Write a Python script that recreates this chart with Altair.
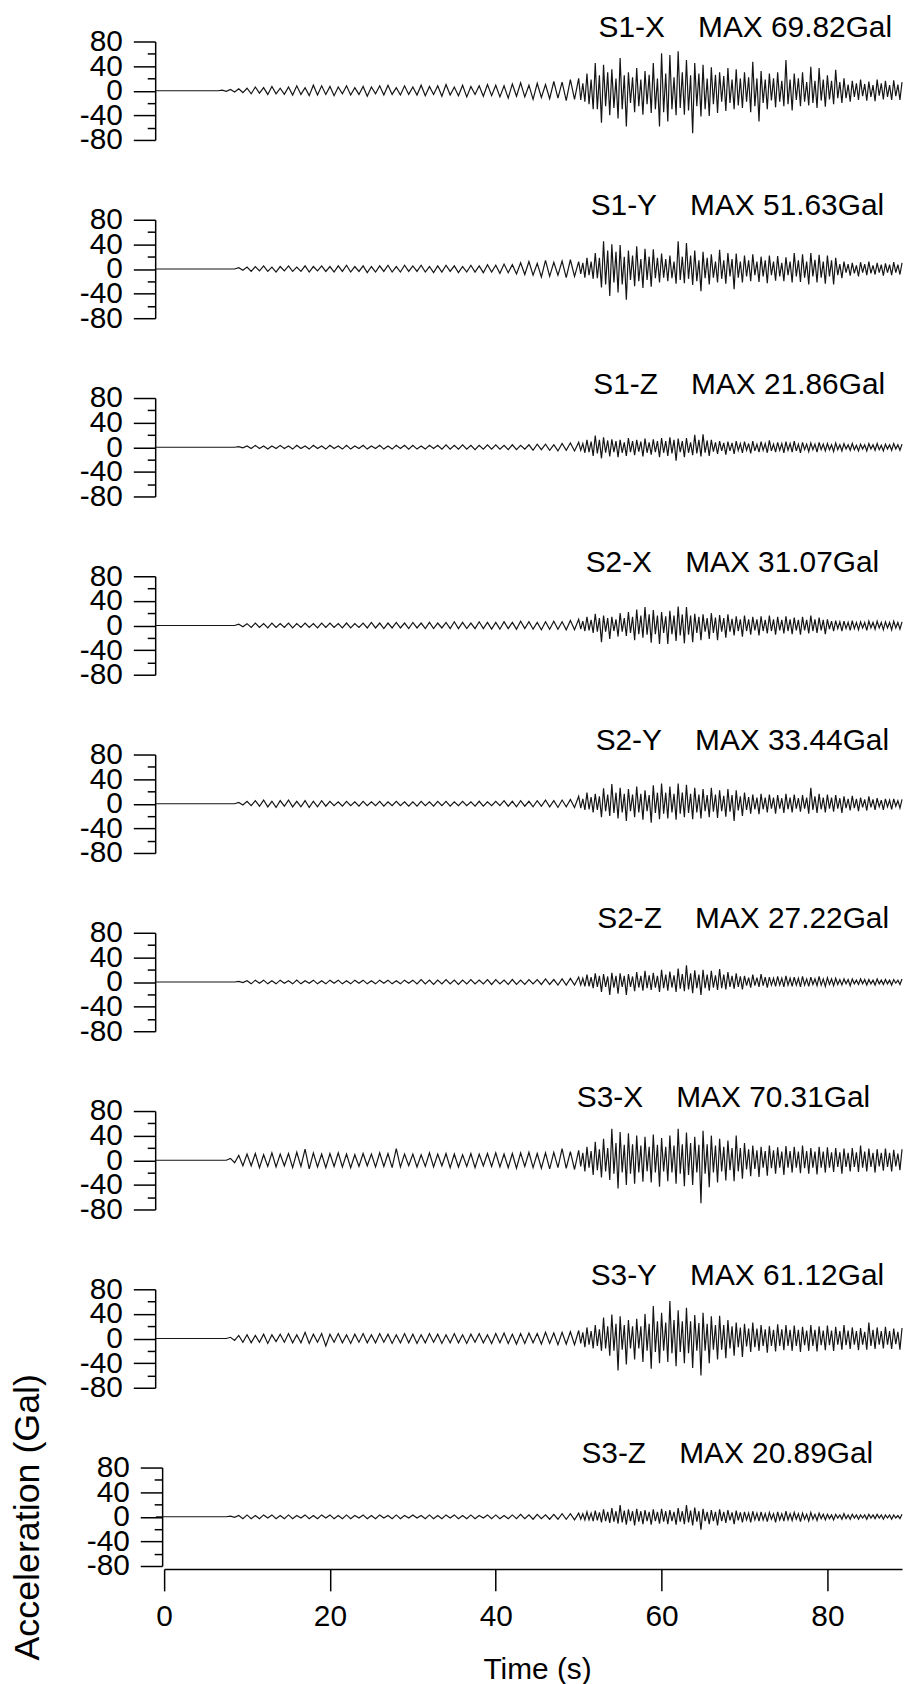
import altair as alt
import pandas as pd

# sample grids of the traces (s): peaks every 0.5 s from -1 s to 49.5 s,
# then every 0.25 s from 50 s to 89 s
EARLY_T0, EARLY_DT = -1.0, 0.5
LATE_T0, LATE_DT = 50.0, 0.25

NAMES = ["S1-X", "S1-Y", "S1-Z", "S2-X", "S2-Y", "S2-Z", "S3-X", "S3-Y", "S3-Z"]
MAX_GAL = ["69.82", "51.63", "21.86", "31.07", "33.44", "27.22", "70.31", "61.12", "20.89"]

# ---- alternating peak values (Gal) ----
S1X_EARLY = [0, 0,
    0, 0, 0, 0, 0, 0, 0, 0, 0, 0, 0, 0, 0, 0, 1, -1, 2, -2, 3, -3,
    4, -5, 6, -4, 5, -6, 7, -5, 4, -6, 6, -7, 8, -6, 5, -8, 9, -7, 8, -6,
    7, -8, 6, -5, 8, -7, 5, -6, 7, -9, 6, -5, 8, -7, 9, -6, 5, -7, 8, -6,
    6, -7, 9, -8, 7, -6, 8, -9, 10, -7, 6, -8, 9, -10, 7, -6, 8, -9, 10, -8,
    9, -10, 8, -12, 11, -9, 13, -10, 9, -14, 12, -11, 10, -13, 15, -12, 14, -16, 18, -14]
S1X_LATE = [
    20, -15, 12, -18, 28, -22, 18, -30, 45, -30, 25, -52, 42, -25, 30, -40, 35, -28, 20, -45,
    53, -30, 25, -58, 30, -20, 22, -35, 37, -25, 18, -39, 32, -22, 26, -36, 45, -30, 20, -58,
    61, -35, 28, -50, 58, -30, 22, -40, 64, -28, 30, -39, 50, -32, 25, -69, 45, -25, 28, -42,
    42, -30, 20, -41, 38, -22, 26, -36, 30, -18, 24, -33, 37, -20, 18, -30, 35, -24, 20, -28,
    30, -18, 22, -35, 47, -25, 20, -50, 32, -20, 18, -30, 28, -16, 20, -27, 30, -18, 16, -25,
    50, -22, 18, -32, 28, -15, 20, -25, 30, -18, 14, -24, 39, -20, 16, -28, 37, -16, 18, -26,
    25, -14, 16, -22, 34, -12, 14, -20, 20, -12, 10, -18, 16, -10, 12, -15, 18, -9, 11, -16,
    15, -10, 9, -17, 18, -8, 12, -14, 16, -10, 9, -15, 17, -9, 10, -15, 14]

S1Y_EARLY = [0, 0,
    0, 0, 0, 0, 0, 0, 0, 0, 0, 0, 0, 0, 0, 0, 0, 0, 0, 0, 2, -2,
    3, -4, 4, -3, 5, -4, 3, -5, 4, -3, 5, -4, 3, -4, 5, -5, 4, -3, 5, -4,
    4, -5, 5, -4, 6, -5, 4, -4, 5, -6, 4, -5, 5, -4, 6, -5, 4, -5, 6, -4,
    5, -4, 6, -5, 4, -6, 5, -5, 6, -4, 5, -6, 4, -5, 6, -5, 5, -6, 7, -5,
    6, -7, 8, -6, 7, -8, 10, -9, 12, -10, 9, -13, 14, -12, 11, -10, 13, -14, 15, -12]
S1Y_LATE = [
    12, -8, 10, -14, 18, -10, 12, -16, 26, -15, 18, -30, 45, -25, 30, -44, 40, -22, 28, -38,
    39, -25, 20, -50, 30, -18, 22, -28, 37, -20, 16, -31, 33, -18, 20, -29, 32, -15, 18, -22,
    25, -14, 16, -20, 22, -15, 12, -24, 45, -18, 20, -23, 42, -16, 22, -26, 30, -20, 14, -36,
    28, -15, 18, -25, 24, -14, 12, -22, 31, -16, 14, -24, 26, -12, 16, -33, 25, -14, 12, -22,
    22, -12, 14, -20, 24, -10, 12, -21, 20, -12, 14, -23, 22, -10, 12, -19, 21, -12, 10, -20,
    19, -10, 12, -22, 26, -12, 14, -21, 24, -14, 12, -25, 26, -12, 15, -22, 23, -14, 12, -24,
    22, -12, 14, -25, 18, -10, 8, -15, 12, -6, 8, -11, 10, -7, 6, -12, 11, -6, 8, -10,
    12, -7, 6, -9, 10, -6, 7, -11, 9, -6, 7, -10, 11, -6, 7, -9, 10]

S1Z_EARLY = [0, 0,
    0, 0, 0, 0, 0, 0, 0, 0, 0, 0, 0, 0, 0, 0, 0, 0, 0, 0, 1, -1,
    2, -2, 3, -2, 2, -3, 2, -2, 3, -2, 2, -3, 3, -2, 2, -3, 3, -2, 2, -3,
    3, -2, 2, -3, 3, -3, 2, -2, 3, -3, 2, -2, 3, -3, 2, -3, 3, -2, 3, -3,
    3, -3, 2, -3, 3, -2, 3, -3, 4, -3, 3, -3, 4, -3, 3, -4, 3, -3, 4, -3,
    4, -3, 3, -4, 4, -4, 3, -3, 4, -5, 5, -4, 5, -5, 4, -6, 6, -5, 7, -6]
S1Z_LATE = [
    8, -5, 6, -9, 12, -8, 9, -14, 19, -10, 12, -18, 16, -9, 11, -15, 13, -8, 10, -16,
    12, -9, 8, -14, 15, -8, 10, -13, 12, -7, 9, -15, 14, -9, 8, -12, 13, -8, 10, -16,
    15, -9, 10, -14, 16, -10, 12, -22, 14, -8, 10, -16, 15, -9, 8, -13, 20, -10, 12, -15,
    21, -9, 11, -14, 12, -7, 8, -11, 10, -6, 7, -12, 9, -6, 7, -11, 10, -5, 6, -9,
    9, -5, 6, -10, 10, -6, 5, -8, 9, -5, 6, -9, 11, -6, 5, -8, 8, -5, 6, -9,
    9, -5, 6, -8, 10, -6, 5, -9, 8, -4, 5, -7, 7, -4, 5, -8, 8, -4, 5, -6,
    6, -4, 4, -7, 7, -4, 4, -6, 6, -3, 4, -5, 6, -4, 3, -6, 5, -3, 4, -6,
    6, -3, 4, -5, 6, -4, 3, -6, 5, -3, 4, -5, 6, -3, 4, -5, 5]

S2X_EARLY = [0, 0,
    0, 0, 0, 0, 0, 0, 0, 0, 0, 0, 0, 0, 0, 0, 0, 0, 0, 0, 2, -2,
    3, -3, 4, -3, 3, -4, 4, -3, 3, -3, 4, -4, 3, -3, 4, -3, 3, -4, 4, -3,
    4, -3, 3, -4, 4, -4, 3, -3, 4, -4, 5, -4, 4, -5, 4, -4, 5, -4, 4, -5,
    5, -4, 4, -5, 5, -5, 4, -4, 5, -5, 6, -5, 5, -5, 4, -5, 6, -5, 5, -6,
    5, -6, 6, -5, 5, -6, 7, -5, 6, -6, 5, -7, 6, -6, 7, -6, 6, -7, 8, -7]
S2X_LATE = [
    10, -6, 7, -9, 14, -8, 9, -12, 19, -10, 12, -27, 16, -10, 12, -22, 14, -9, 10, -18,
    20, -10, 12, -17, 22, -12, 14, -24, 26, -14, 16, -20, 30, -15, 18, -28, 25, -14, 16, -30,
    22, -12, 15, -30, 24, -14, 16, -25, 31, -16, 18, -29, 30, -15, 16, -27, 19, -12, 14, -24,
    18, -10, 12, -22, 20, -12, 13, -24, 17, -10, 12, -20, 18, -10, 11, -16, 15, -9, 10, -18,
    16, -9, 10, -15, 14, -8, 10, -16, 15, -9, 9, -13, 16, -9, 10, -15, 14, -8, 9, -13,
    15, -9, 10, -14, 13, -8, 9, -15, 14, -8, 9, -13, 16, -9, 10, -12, 13, -8, 9, -14,
    10, -6, 7, -9, 8, -5, 6, -9, 7, -5, 5, -8, 8, -5, 5, -7, 6, -4, 5, -8,
    7, -4, 5, -6, 7, -4, 5, -7, 6, -4, 5, -7, 7, -4, 5, -6, 6]

S2Y_EARLY = [0, 0,
    0, 0, 0, 0, 0, 0, 0, 0, 0, 0, 0, 0, 0, 0, 0, 0, 0, 0, 2, -2,
    4, -3, 5, -4, 6, -5, 4, -6, 5, -4, 6, -5, 4, -5, 5, -6, 4, -5, 5, -4,
    4, -3, 3, -4, 4, -3, 3, -4, 4, -3, 3, -3, 4, -4, 3, -3, 4, -3, 3, -4,
    3, -4, 4, -3, 3, -4, 4, -3, 4, -4, 3, -3, 4, -3, 3, -4, 4, -4, 3, -3,
    4, -3, 5, -4, 4, -5, 5, -4, 4, -5, 5, -4, 6, -5, 5, -6, 6, -5, 7, -6]
S2Y_LATE = [
    12, -7, 8, -10, 18, -9, 11, -14, 16, -10, 12, -22, 25, -12, 15, -20, 32, -15, 18, -24,
    26, -14, 16, -28, 24, -12, 15, -22, 28, -14, 16, -26, 22, -12, 14, -31, 30, -15, 18, -25,
    33, -16, 18, -24, 28, -14, 16, -26, 33, -16, 18, -22, 31, -15, 16, -25, 26, -14, 15, -24,
    24, -12, 14, -22, 26, -13, 15, -23, 22, -12, 13, -21, 24, -13, 14, -28, 22, -11, 12, -20,
    18, -10, 11, -16, 15, -9, 10, -17, 16, -9, 10, -14, 15, -8, 10, -16, 14, -8, 9, -15,
    16, -9, 10, -14, 15, -8, 9, -13, 14, -8, 10, -16, 26, -10, 12, -15, 16, -9, 10, -14,
    15, -8, 10, -13, 14, -8, 9, -15, 12, -7, 8, -11, 13, -7, 8, -12, 10, -6, 7, -11,
    12, -6, 7, -10, 9, -5, 6, -10, 8, -5, 6, -9, 8, -4, 5, -7, 7]

S2Z_EARLY = [0, 0,
    0, 0, 0, 0, 0, 0, 0, 0, 0, 0, 0, 0, 0, 0, 0, 0, 0, 0, 1, -1,
    2, -3, 3, -2, 3, -3, 2, -3, 3, -2, 2, -3, 3, -3, 2, -2, 3, -3, 2, -3,
    3, -2, 3, -3, 2, -3, 3, -2, 3, -3, 2, -3, 3, -2, 3, -3, 2, -3, 3, -2,
    3, -3, 4, -3, 3, -4, 3, -3, 4, -3, 3, -4, 3, -3, 4, -3, 3, -3, 4, -4,
    4, -3, 3, -4, 4, -4, 3, -4, 4, -3, 4, -4, 5, -4, 4, -5, 5, -5, 6, -5]
S2Z_LATE = [
    8, -5, 6, -7, 12, -7, 8, -10, 14, -8, 10, -16, 13, -8, 9, -21, 15, -9, 10, -19,
    14, -8, 10, -21, 13, -8, 9, -15, 16, -9, 10, -14, 18, -10, 11, -13, 15, -9, 10, -16,
    20, -10, 12, -14, 17, -9, 11, -16, 22, -11, 13, -15, 27, -12, 14, -18, 19, -10, 12, -21,
    20, -10, 12, -14, 18, -9, 11, -13, 21, -10, 12, -12, 16, -8, 10, -11, 14, -8, 9, -12,
    10, -6, 7, -9, 12, -6, 7, -8, 13, -6, 8, -9, 8, -5, 6, -7, 9, -5, 6, -8,
    10, -5, 6, -7, 8, -5, 6, -8, 9, -5, 5, -7, 8, -4, 5, -6, 9, -5, 5, -7,
    7, -4, 5, -6, 6, -4, 4, -5, 5, -3, 4, -6, 5, -3, 3, -4, 5, -3, 4, -5,
    4, -3, 3, -5, 5, -3, 3, -4, 4, -3, 3, -5, 4, -2, 3, -4, 5]

S3X_EARLY = [0, 0,
    0, 0, 0, 0, 0, 0, 0, 0, 0, 0, 0, 0, 0, 0, 0, 0, 3, -4, 8, -9,
    10, -9, 11, -12, 9, -10, 12, -11, 10, -9, 11, -12, 13, -10, 18, -14, 12, -11, 10, -12,
    11, -10, 12, -11, 10, -12, 9, -10, 11, -9, 10, -11, 12, -10, 11, -12, 19, -11, 10, -9,
    10, -11, 9, -10, 12, -11, 10, -9, 11, -12, 10, -11, 9, -10, 11, -12, 10, -9, 11, -10,
    12, -11, 10, -12, 11, -13, 12, -10, 13, -12, 11, -13, 12, -14, 13, -12, 19, -13, 14, -15]
S3X_LATE = [
    16, -10, 12, -18, 22, -12, 15, -24, 30, -16, 18, -28, 35, -18, 20, -32, 51, -22, 28, -46,
    46, -20, 25, -40, 44, -22, 26, -38, 40, -20, 24, -35, 38, -18, 22, -36, 42, -20, 25, -43,
    36, -18, 22, -34, 40, -20, 24, -38, 51, -22, 26, -42, 45, -24, 28, -40, 38, -20, 25, -70,
    48, -22, 26, -44, 40, -20, 24, -36, 35, -18, 22, -33, 32, -16, 20, -34, 40, -18, 20, -30,
    28, -15, 18, -26, 24, -14, 16, -27, 22, -12, 15, -25, 24, -13, 16, -22, 21, -12, 14, -24,
    23, -12, 15, -20, 22, -12, 14, -21, 24, -13, 15, -22, 20, -12, 14, -23, 22, -12, 14, -20,
    21, -12, 13, -19, 20, -11, 13, -22, 19, -11, 12, -18, 20, -11, 13, -19, 24, -12, 14, -18,
    19, -11, 12, -20, 18, -10, 12, -17, 19, -11, 12, -18, 17, -10, 11, -16, 18]

S3Y_EARLY = [0, 0,
    0, 0, 0, 0, 0, 0, 0, 0, 0, 0, 0, 0, 0, 0, 0, 0, 2, -3, 5, -6,
    6, -7, 5, -6, 7, -8, 6, -5, 7, -6, 8, -7, 6, -7, 10, -8, 7, -6, 8, -12,
    7, -6, 8, -7, 6, -8, 7, -6, 8, -7, 6, -7, 8, -6, 7, -8, 6, -7, 8, -7,
    7, -8, 6, -7, 8, -6, 7, -8, 6, -7, 8, -7, 6, -8, 7, -6, 8, -7, 6, -8,
    8, -7, 9, -8, 7, -9, 8, -8, 9, -7, 8, -9, 10, -8, 9, -10, 10, -9, 11, -10]
S3Y_LATE = [
    13, -8, 10, -14, 18, -10, 12, -16, 22, -12, 15, -20, 34, -16, 20, -28, 39, -20, 24, -52,
    36, -18, 22, -42, 30, -16, 20, -34, 32, -16, 20, -38, 40, -20, 24, -49, 53, -22, 28, -40,
    42, -20, 26, -38, 61, -24, 30, -45, 46, -22, 28, -40, 50, -24, 28, -48, 38, -20, 25, -60,
    42, -20, 24, -40, 36, -18, 22, -34, 37, -18, 22, -32, 30, -16, 20, -28, 26, -14, 18, -30,
    24, -13, 16, -22, 26, -14, 16, -20, 22, -12, 15, -23, 20, -12, 14, -21, 23, -12, 15, -19,
    22, -12, 14, -20, 21, -12, 14, -22, 19, -11, 13, -20, 22, -12, 14, -21, 20, -11, 13, -19,
    21, -11, 13, -20, 19, -10, 12, -18, 22, -11, 13, -17, 18, -10, 12, -19, 17, -10, 11, -18,
    26, -12, 14, -17, 18, -10, 12, -16, 19, -10, 12, -17, 16, -9, 11, -18, 17]

S3Z_EARLY = [0, 0,
    0, 0, 0, 0, 0, 0, 0, 0, 0, 0, 0, 0, 0, 0, 0, 0, 1, -1, 2, -3,
    3, -3, 2, -3, 3, -2, 3, -3, 2, -3, 3, -3, 2, -2, 3, -3, 2, -3, 3, -2,
    3, -3, 2, -3, 3, -3, 2, -2, 3, -3, 2, -3, 3, -2, 2, -3, 3, -3, 2, -2,
    3, -2, 2, -3, 3, -3, 2, -3, 3, -2, 3, -3, 2, -3, 3, -3, 2, -2, 3, -3,
    3, -3, 2, -3, 3, -3, 4, -3, 3, -4, 4, -3, 3, -4, 4, -4, 5, -4, 5, -5]
S3Z_LATE = [
    6, -4, 5, -5, 8, -5, 6, -7, 10, -6, 7, -9, 12, -7, 8, -10, 14, -8, 9, -11,
    19, -9, 10, -13, 12, -7, 9, -14, 13, -8, 9, -12, 11, -7, 8, -13, 12, -7, 8, -11,
    13, -8, 9, -12, 11, -7, 8, -13, 14, -8, 9, -12, 19, -9, 10, -14, 15, -8, 9, -21,
    13, -7, 8, -12, 11, -7, 8, -14, 12, -7, 8, -10, 11, -6, 7, -12, 10, -6, 7, -9,
    8, -5, 6, -9, 9, -5, 6, -7, 8, -5, 5, -8, 7, -4, 5, -9, 8, -5, 5, -7,
    9, -5, 5, -6, 7, -4, 5, -8, 6, -4, 4, -7, 7, -4, 4, -6, 6, -3, 4, -5,
    4, -3, 3, -5, 4, -2, 3, -4, 5, -3, 3, -4, 4, -2, 3, -4, 3, -2, 3, -4,
    4, -2, 3, -3, 4, -2, 3, -4, 3, -2, 3, -4, 3, -2, 2, -3, 4]

TRACES = [
    (S1X_EARLY, S1X_LATE), (S1Y_EARLY, S1Y_LATE), (S1Z_EARLY, S1Z_LATE),
    (S2X_EARLY, S2X_LATE), (S2Y_EARLY, S2Y_LATE), (S2Z_EARLY, S2Z_LATE),
    (S3X_EARLY, S3X_LATE), (S3Y_EARLY, S3Y_LATE), (S3Z_EARLY, S3Z_LATE),
]

X_TICKS = [0, 20, 40, 60, 80]
Y_TICKS = [-80, -60, -40, -20, 0, 20, 40, 60, 80]

# ---- layout (pixels) ----
W, H = 742, 99
TITLE_RIGHT = [732, 724, 725, 719, 729, 729, 710, 724, 713]
FONT = "Liberation Sans"
GAP = "\u00a0" * 4

panels = []
n = len(NAMES)
for i, (name, mx, (early, late)) in enumerate(zip(NAMES, MAX_GAL, TRACES)):
    last = i == n - 1
    times = [EARLY_T0 + EARLY_DT * k for k in range(len(early))] + \
            [LATE_T0 + LATE_DT * k for k in range(len(late))]
    df = pd.DataFrame({"t": times, "a": early + late})

    if last:
        xaxis = alt.Axis(values=X_TICKS, tickSize=22, tickWidth=1.5, tickColor="black",
                         domainWidth=1.5, domainColor="black", labelFontSize=30,
                         labelFont=FONT, labelColor="black", labelPadding=11,
                         labelFlush=False, labelOverlap=False, offset=3, grid=False,
                         title="Time (s)", titleFontSize=30, titleFont=FONT,
                         titleFontWeight="normal", titleColor="black", titlePadding=23,
                         titleX=375)
    else:
        xaxis = None

    yaxis_kw = dict(values=Y_TICKS,
                    labelExpr="datum.value % 40 === 0 ? '' + datum.value : ''",
                    tickSize={"condition": {"test": "datum.value % 40 === 0", "value": 22},
                              "value": 8},
                    tickWidth=1.5, tickColor="black", domainWidth=1.5, domainColor="black",
                    labelFontSize=30, labelFont=FONT, labelColor="black", labelPadding=11,
                    labelFlush=False, labelOverlap=False, grid=False,
                    offset=2 if last else 9)
    if last:
        yaxis_kw.update(title="Acceleration (Gal)", titleFontSize=36, titleFont=FONT,
                        titleFontWeight="normal", titleColor="black", titleX=-116)
    else:
        yaxis_kw.update(title=None)
    yaxis = alt.Axis(**yaxis_kw)

    line = alt.Chart(df).mark_line(color="#151515", strokeWidth=1.2, clip=False).encode(
        x=alt.X("t:Q", scale=alt.Scale(domain=[0, 89], nice=False, zero=False), axis=xaxis),
        y=alt.Y("a:Q", scale=alt.Scale(domain=[-80, 80], nice=False), axis=yaxis),
    )
    lab = alt.Chart(pd.DataFrame({"s": [f"{name}{GAP}MAX {mx}Gal"]})).mark_text(
        align="right", baseline="alphabetic", fontSize=30, font=FONT, color="black"
    ).encode(x=alt.value(TITLE_RIGHT[i]), y=alt.value(-4.5), text="s:N")

    panels.append(alt.layer(line, lab).properties(width=W, height=H))

chart = alt.vconcat(*panels, spacing=80.25, bounds="flush").properties(
    padding={"left": 1, "top": 0, "right": 0, "bottom": 0}
).configure(font=FONT).configure_view(strokeWidth=0, stroke="transparent")

chart.save("out.html", embed_options={"renderer": "svg", "actions": False})
